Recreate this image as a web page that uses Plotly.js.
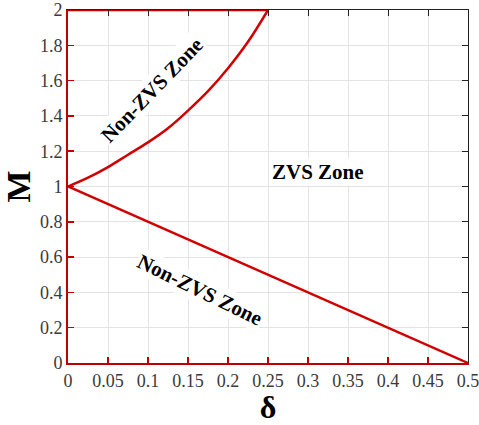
<!DOCTYPE html>
<html><head><meta charset="utf-8">
<script src="https://cdn.plot.ly/plotly-3.0.1.min.js"></script>
<style>body{margin:0;padding:0;background:#fff}#chart{width:479px;height:425px}</style>
</head><body><div id="chart"></div>
<script>
// Upper boundary curve
const upperDelta = [0, 0.025, 0.05, 0.075, 0.1, 0.125, 0.15, 0.175, 0.2, 0.225, 0.25];
const upperM     = [1, 1.05, 1.11, 1.18, 1.25, 1.33, 1.43, 1.54, 1.67, 1.82, 2.0];
// Lower boundary line
const lowerDelta = [0, 0.5];
const lowerM     = [1, 0];
// Top edge of upper region
const topDelta = [0, 0.25];
const topM     = [2, 2];
const xTicks = [0,0.05,0.1,0.15,0.2,0.25,0.3,0.35,0.4,0.45,0.5];
const xTickText = ["0","0.05","0.1","0.15","0.2","0.25","0.3","0.35","0.4","0.45","0.5"];
const yTicks = [0,0.2,0.4,0.6,0.8,1,1.2,1.4,1.6,1.8,2];
const yTickText = ["0","0.2","0.4","0.6","0.8","1","1.2","1.4","1.6","1.8","2"];

const red = '#d10000';
const axRed = '#c00000';
const serif = 'Liberation Serif';

const traces = [
  {x: upperDelta, y: upperM, mode:'lines', line:{color:red, width:2.5, shape:'spline', smoothing:1}, hoverinfo:'skip', showlegend:false},
  {x: lowerDelta, y: lowerM, mode:'lines', line:{color:red, width:2.5}, hoverinfo:'skip', showlegend:false},
  {x: topDelta, y: topM, mode:'lines', line:{color:red, width:2.5}, hoverinfo:'skip', showlegend:false, cliponaxis:false},
  {x:[0], y:[0], xaxis:'x2', yaxis:'y2', mode:'markers', marker:{opacity:0}, hoverinfo:'skip', showlegend:false}
];

const layout = {
  width: 479, height: 425,
  margin: {l:68, r:11, t:10, b:62},
  paper_bgcolor:'#fff', plot_bgcolor:'#fff',
  font: {family: serif, color:'#333'},
  xaxis: {
    range:[0,0.5], tickvals:xTicks, ticktext:xTickText,
    showgrid:true, gridcolor:'#e3e3e3', gridwidth:1,
    showline:true, linecolor:axRed, linewidth:2,
    ticks:'inside', ticklen:6, tickcolor:axRed, tickwidth:1.5,
    tickfont:{size:18, family:serif, color:'#3a3a3a'}, ticklabeloverflow:'allow',
    zeroline:false, fixedrange:true,
    title:{text:'<b>δ</b>', font:{size:32, family:serif, color:'#000'}, standoff:11}
  },
  yaxis: {
    range:[0,2], tickvals:yTicks, ticktext:yTickText,
    showgrid:true, gridcolor:'#e3e3e3', gridwidth:1,
    showline:true, linecolor:axRed, linewidth:2,
    ticks:'inside', ticklen:6, tickcolor:axRed, tickwidth:1.5,
    tickfont:{size:18, family:serif, color:'#3a3a3a'}, ticklabeloverflow:'allow',
    zeroline:false, fixedrange:true,
    title:{text:'<b>M</b>', font:{size:34, family:serif, color:'#000'}, standoff:2}
  },
  xaxis2: {
    overlaying:'x', side:'top', range:[0,0.5], tickvals:xTicks, showticklabels:false,
    showgrid:false, zeroline:false, showline:true, linecolor:'#222', linewidth:1,
    ticks:'inside', ticklen:6, tickcolor:'#222', anchor:'y2'
  },
  yaxis2: {
    overlaying:'y', side:'right', range:[0,2], tickvals:yTicks, showticklabels:false,
    showgrid:false, zeroline:false, showline:true, linecolor:'#222', linewidth:1,
    ticks:'inside', ticklen:6, tickcolor:'#222', anchor:'x2'
  },
  annotations: [
    {x:0.105, y:1.547, xref:'x', yref:'y', text:'<b>Non-ZVS Zone</b>', showarrow:false,
     textangle:-46, bgcolor:'#fff', font:{size:21, family:serif, color:'#000'}},
    {x:0.3125, y:1.082, xref:'x', yref:'y', text:'<b>ZVS Zone</b>', showarrow:false,
     bgcolor:'#fff', font:{size:21, family:serif, color:'#000'}},
    {x:0.165, y:0.414, xref:'x', yref:'y', text:'<b>Non-ZVS Zone</b>', showarrow:false,
     textangle:26, bgcolor:'#fff', font:{size:21, family:serif, color:'#000'}}
  ]
};
Plotly.newPlot('chart', traces, layout, {displayModeBar:false, staticPlot:true});
</script></body></html>
